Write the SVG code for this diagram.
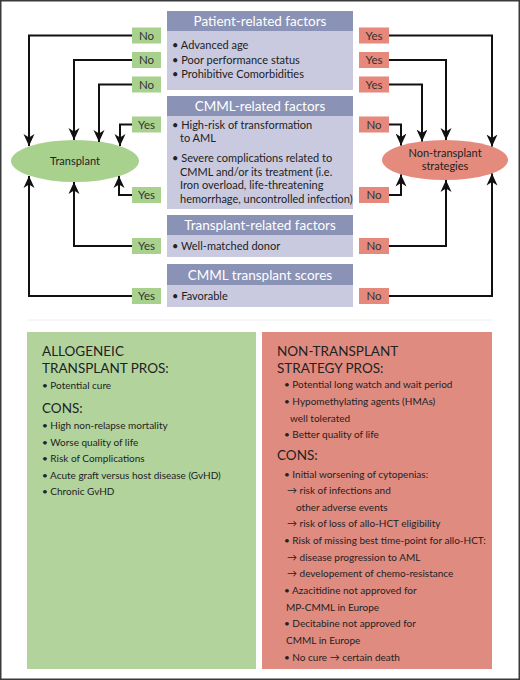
<svg xmlns="http://www.w3.org/2000/svg" width="520" height="680" viewBox="0 0 520 680">
<style>
text{font-family:Lato,"Open Sans","Liberation Sans",sans-serif;fill:#222}
.hd{fill:#8a92b6}
.bd{fill:#c9cadf}
.ht{fill:#fff;font-size:13.5px;text-anchor:middle}
.bt{font-size:11px}
.gl{fill:#a9d18e}
.rl{fill:#e6887b}
.lt{font-size:11.5px;text-anchor:middle;fill:#333}
.cn{fill:none;stroke:#111;stroke-width:2}
.h2{font-size:13.5px}
.t2{font-size:10px}
</style>
<defs>
<marker id="ah" markerUnits="userSpaceOnUse" markerWidth="13" markerHeight="13" viewBox="0 0 13 13" refX="12" refY="6.5" orient="auto">
<path d="M0,1 L12,6.5 L0,12 L3.5,6.5 Z" fill="#111"/>
</marker>
</defs>
<rect x="0.75" y="0.75" width="518.5" height="678.5" fill="#fff" stroke="#3a3a3a" stroke-width="1.5"/>
<line x1="27" y1="320" x2="493" y2="320" stroke="#eeeeee" stroke-width="1"/>

<g id="patient">
<rect class="hd" x="167" y="11" width="186" height="20"/>
<rect class="bd" x="167" y="31" width="186" height="59"/>
<text class="ht" x="260" y="26">Patient-related factors</text>
<text class="bt" x="172" y="49">• Advanced age</text>
<text class="bt" x="172" y="63.5">• Poor performance status</text>
<text class="bt" x="172" y="78">• Prohibitive Comorbidities</text>
</g>
<g id="cmml">
<rect class="hd" x="167" y="96" width="186" height="20"/>
<rect class="bd" x="167" y="116" width="186" height="93"/>
<text class="ht" x="260" y="111">CMML-related factors</text>
<text class="bt" x="172" y="129">• High-risk of transformation</text>
<text class="bt" x="180" y="142">to AML</text>
<text class="bt" x="172" y="162">• Severe complications related to</text>
<text class="bt" x="180" y="175.5">CMML and/or its treatment (i.e.</text>
<text class="bt" x="180" y="189">Iron overload, life-threatening</text>
<text class="bt" x="180" y="202.5">hemorrhage, uncontrolled infection)</text>
</g>
<g id="transplant-factors">
<rect class="hd" x="167" y="215" width="186" height="20"/>
<rect class="bd" x="167" y="235" width="186" height="22"/>
<text class="ht" x="260" y="230">Transplant-related factors</text>
<text class="bt" x="172" y="250">• Well-matched donor</text>
</g>
<g id="scores">
<rect class="hd" x="167" y="264" width="186" height="21"/>
<rect class="bd" x="167" y="285" width="186" height="22"/>
<text class="ht" x="260" y="280">CMML transplant scores</text>
<text class="bt" x="172" y="300">• Favorable</text>
</g>

<g id="labels-left">
<rect class="gl" x="132" y="27.5" width="29" height="16"/><text class="lt" x="146.5" y="39.5">No</text>
<rect class="gl" x="132" y="52" width="29" height="16"/><text class="lt" x="146.5" y="64">No</text>
<rect class="gl" x="132" y="76.5" width="29" height="16"/><text class="lt" x="146.5" y="88.5">No</text>
<rect class="gl" x="132" y="116.5" width="29" height="16"/><text class="lt" x="146.5" y="128.5">Yes</text>
<rect class="gl" x="132" y="187" width="29" height="16"/><text class="lt" x="146.5" y="199">Yes</text>
<rect class="gl" x="132" y="238" width="29" height="16"/><text class="lt" x="146.5" y="250">Yes</text>
<rect class="gl" x="132" y="288" width="29" height="16"/><text class="lt" x="146.5" y="300">Yes</text>
</g>
<g id="labels-right">
<rect class="rl" x="359" y="27.5" width="30" height="16"/><text class="lt" x="374" y="39.5">Yes</text>
<rect class="rl" x="359" y="52" width="30" height="16"/><text class="lt" x="374" y="64">Yes</text>
<rect class="rl" x="359" y="76.5" width="30" height="16"/><text class="lt" x="374" y="88.5">Yes</text>
<rect class="rl" x="359" y="116.5" width="30" height="16"/><text class="lt" x="374" y="128.5">No</text>
<rect class="rl" x="359" y="187" width="30" height="16"/><text class="lt" x="374" y="199">No</text>
<rect class="rl" x="359" y="238" width="30" height="16"/><text class="lt" x="374" y="250">No</text>
<rect class="rl" x="359" y="288" width="30" height="16"/><text class="lt" x="374" y="300">No</text>
</g>

<g id="node-transplant">
<ellipse cx="75" cy="161" rx="64" ry="21" fill="#a9d18e"/>
<text x="75" y="165" font-size="11" text-anchor="middle" fill="#333">Transplant</text>
</g>
<g id="node-nontransplant">
<ellipse cx="445" cy="160" rx="63" ry="20" fill="#e58b7e"/>
<text x="445" y="157" font-size="11" text-anchor="middle" fill="#333">Non-transplant</text>
<text x="445" y="169.5" font-size="11" text-anchor="middle" fill="#333">strategies</text>
</g>

<g id="connectors">
<path class="cn" marker-end="url(#ah)" d="M132,35.5 H29 V146"/>
<path class="cn" marker-end="url(#ah)" d="M132,60 H74 V140"/>
<path class="cn" marker-end="url(#ah)" d="M132,84.5 H99 V142"/>
<path class="cn" marker-end="url(#ah)" d="M132,124.5 H120 V146"/>
<path class="cn" marker-end="url(#ah)" d="M132,195 H119 V176"/>
<path class="cn" marker-end="url(#ah)" d="M132,246 H74 V182"/>
<path class="cn" marker-end="url(#ah)" d="M132,296 H29 V176"/>
<path class="cn" marker-end="url(#ah)" d="M389,35.5 H492 V146.5"/>
<path class="cn" marker-end="url(#ah)" d="M389,60 H446 V140"/>
<path class="cn" marker-end="url(#ah)" d="M389,84.5 H422 V141.5"/>
<path class="cn" marker-end="url(#ah)" d="M389,124.5 H401 V145.5"/>
<path class="cn" marker-end="url(#ah)" d="M389,195 H401 V174.5"/>
<path class="cn" marker-end="url(#ah)" d="M389,246 H446 V180"/>
<path class="cn" marker-end="url(#ah)" d="M389,296 H492 V173.5"/>
</g>

<g id="box-transplant">
<rect x="27" y="332" width="229" height="337" fill="#b2d49c"/>
<text class="h2" x="42" y="356">ALLOGENEIC</text>
<text class="h2" x="42" y="373">TRANSPLANT PROS:</text>
<text class="t2" x="42" y="389">• Potential cure</text>
<text class="h2" x="42" y="413">CONS:</text>
<text class="t2" x="42" y="429">• High non-relapse mortality</text>
<text class="t2" x="42" y="445.5">• Worse quality of life</text>
<text class="t2" x="42" y="462">• Risk of Complications</text>
<text class="t2" x="42" y="478.5">• Acute graft versus host disease (GvHD)</text>
<text class="t2" x="42" y="495">• Chronic GvHD</text>
</g>
<g id="box-nontransplant">
<rect x="262" y="332" width="230" height="337" fill="#e08b80"/>
<text class="h2" x="277" y="356">NON-TRANSPLANT</text>
<text class="h2" x="277" y="373">STRATEGY PROS:</text>
<text class="t2" x="284" y="388">• Potential long watch and wait period</text>
<text class="t2" x="284" y="405">• Hypomethylating agents (HMAs)</text>
<text class="t2" x="290" y="422">well tolerated</text>
<text class="t2" x="284" y="438">• Better quality of life</text>
<text class="h2" x="277" y="460">CONS:</text>
<text class="t2" x="284" y="478">• Initial worsening of cytopenias:</text>
<text class="t2" x="287" y="494">→ risk of infections and</text>
<text class="t2" x="296" y="511">other adverse events</text>
<text class="t2" x="287" y="527">→ risk of loss of allo-HCT eligibility</text>
<text class="t2" x="284" y="544">• Risk of missing best time-point for allo-HCT:</text>
<text class="t2" x="287" y="561">→ disease progression to AML</text>
<text class="t2" x="287" y="577">→ developement of chemo-resistance</text>
<text class="t2" x="284" y="594">• Azacitidine not approved for</text>
<text class="t2" x="286" y="611">MP-CMML in Europe</text>
<text class="t2" x="284" y="627">• Decitabine not approved for</text>
<text class="t2" x="286" y="644">CMML in Europe</text>
<text class="t2" x="284" y="661">• No cure → certain death</text>
</g>
</svg>
